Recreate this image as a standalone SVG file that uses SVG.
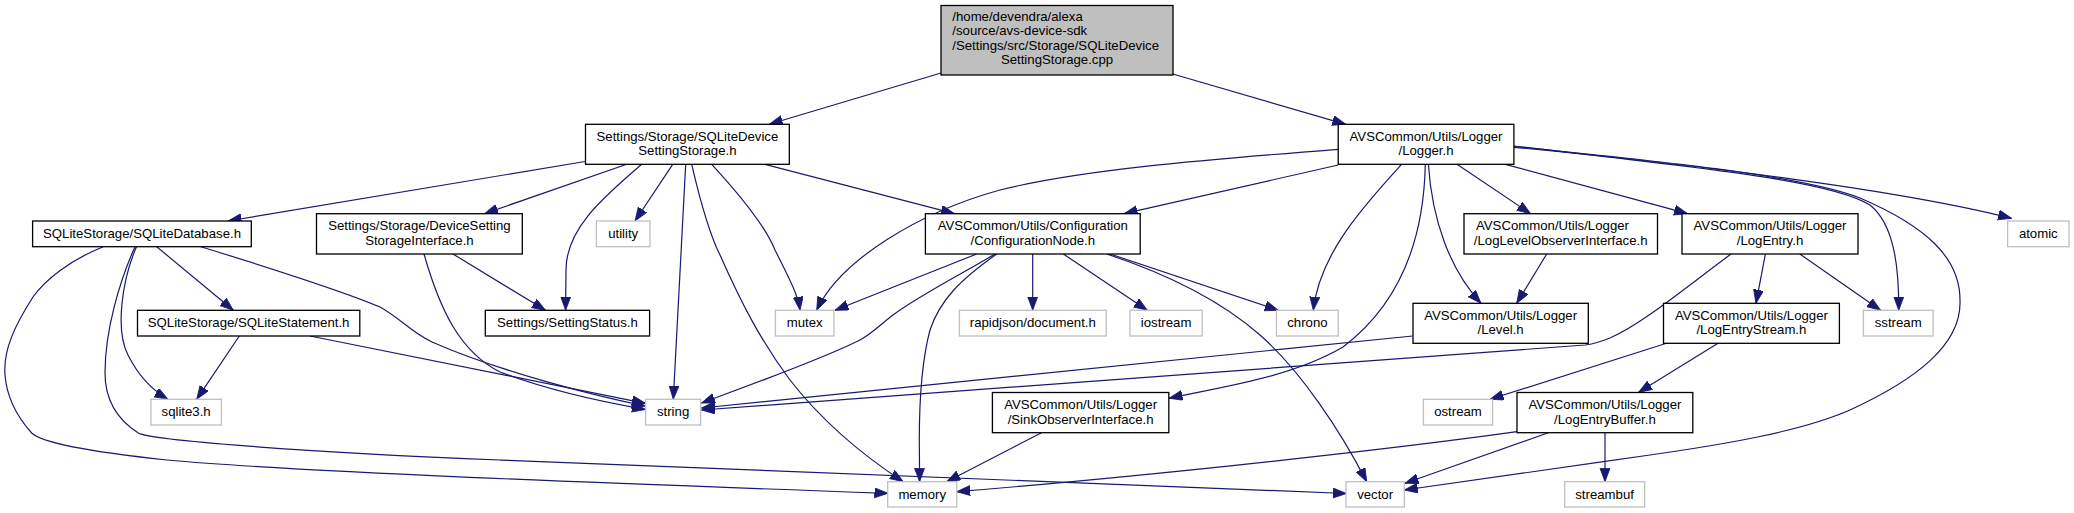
<svg xmlns="http://www.w3.org/2000/svg" width="2074" height="513" viewBox="0 0 2074 513">
<style>
.n rect{fill:#ffffff;stroke:#000000;stroke-width:1.3}
.x rect{fill:#ffffff;stroke:#bfbfbf;stroke-width:1.3}
.root rect{fill:#bfbfbf;stroke:#000000;stroke-width:1.3}
text{font-family:"Liberation Sans",Arial,sans-serif;font-size:13.2px;fill:#000000;text-anchor:middle}
text.l{text-anchor:start}
#edges path{fill:none;stroke:#191970;stroke-width:1.2;marker-end:url(#ah)}
</style>
<defs>
<marker id="ah" markerUnits="userSpaceOnUse" markerWidth="15" markerHeight="12" refX="13.5" refY="5" orient="auto">
<path d="M0,0 L13.5,5 L0,10 z" fill="#191970" stroke="#191970" stroke-width="0.8"/>
</marker>
</defs>
<rect width="2074" height="513" fill="#ffffff"/>
<g id="edges">
<path d="M941,73 L769.2,124.3"/>
<path d="M1172.8,74 L1345.8,124.3"/>
<path d="M585,161.5 L228,221"/>
<path d="M626.7,164.3 L484.4,213.7"/>
<path d="M641.7,164.3 C600,200 566,230 566,270 L565.6,310.3"/>
<path d="M672.7,164.3 L635,221"/>
<path d="M685.7,164.3 L673.3,399.3"/>
<path d="M691.7,164.3 C700,200 710,235 720,255 C740,300 760,340 790,380 C825,425 870,460 903.3,481.7"/>
<path d="M711.7,164.3 C740,195 765,225 775,250 C790,280 798,295 800,310.3"/>
<path d="M765,164.3 L954.5,213.7"/>
<path d="M1338.2,165 L1124,213.7"/>
<path d="M1338.2,149.3 C1200,160 1080,170 1000,190 C920,212 840,260 816.7,310.3"/>
<path d="M1401.5,164.3 C1370,200 1320,250 1313.3,310.3"/>
<path d="M1425.3,164.3 C1424,230 1405,300 1343,347 C1290,378 1220,387 1169,398.3"/>
<path d="M1428.4,164.3 C1432,220 1450,270 1481,303.3"/>
<path d="M1457,164.3 L1530.6,213.7"/>
<path d="M1505.3,164.3 L1687.6,213.7"/>
<path d="M1513.9,146 C1700,168 1830,180 1870,205 C1895,225 1899,270 1898.7,310.3"/>
<path d="M1513.9,146.5 C1650,160 1800,175 1860,198 C1930,228 1960,260 1960,300 C1962,345 1915,380 1850,410 C1800,432 1720,445 1650,455 C1560,468 1460,482 1404.3,490"/>
<path d="M1513.9,147.3 C1700,165 1900,190 2011.6,218.3"/>
<path d="M103.3,246.7 C70,260 45,280 33,297 C15,325 3,350 5,375 C7,400 20,420 31.7,433 C45,446 120,455 166.7,460 C300,472 600,483 888,493.3"/>
<path d="M135,246.7 C120,280 105,330 105,373 C105,400 118,420 138.3,433 C150,440 300,452 500,460 C800,472 1100,485 1346.5,493.5"/>
<path d="M136.5,246.7 C122,280 115,330 128,355 C138,375 152,390 168,399.3"/>
<path d="M156.7,246.7 L233.3,310.3"/>
<path d="M200.9,246.7 C270,268 340,290 380,307 C400,318 412,333 432,342 C500,372 600,397 645.5,406"/>
<path d="M453,254 L545.5,310.3"/>
<path d="M424,254 C440,310 460,352 500,372 C560,395 620,405 645.5,409.5"/>
<path d="M239.3,336 L196.7,399.3"/>
<path d="M310,336 L645.5,403.3"/>
<path d="M976.7,254 L835,310.3"/>
<path d="M995,254 C960,275 920,295 893,315 C880,325 870,335 860,340 C820,360 750,385 701.5,403"/>
<path d="M996.7,254 C960,280 940,300 930,330 C922,360 919.3,400 919.3,440 L919.6,481.7"/>
<path d="M1032.7,254 L1032.7,310.3"/>
<path d="M1063.3,254 L1147.3,310.3"/>
<path d="M1110,254 L1278.3,310.3"/>
<path d="M1106.7,254 C1170,275 1220,300 1260,335 C1300,370 1340,430 1366.7,481.7"/>
<path d="M1546.7,254 L1516.7,303.3"/>
<path d="M1731,254 C1680,292 1640,325 1610,338 C1600,342 1595,344 1585,345 L701.5,410"/>
<path d="M1765.4,254 L1756,303.3"/>
<path d="M1799.8,254 L1880.6,310.3"/>
<path d="M1412.7,336 L701.5,408"/>
<path d="M1041.5,432.7 L946.7,481.7"/>
<path d="M1666.5,343.3 L1490,399.3"/>
<path d="M1718,343.3 L1638.6,392.3"/>
<path d="M1517,431.7 C1350,455 1100,480 956.7,491.7"/>
<path d="M1548.3,432.7 L1405,483.3"/>
<path d="M1605,432.7 L1605,481.7"/>
</g>
<g id="root" class="root"><rect x="941" y="5.5" width="232" height="69.5"/>
<text class="l" x="952.3" y="21">/home/devendra/alexa</text>
<text class="l" x="952.3" y="35.3">/source/avs-device-sdk</text>
<text class="l" x="952.3" y="49.6">/Settings/src/Storage/SQLiteDevice</text>
<text x="1057" y="63.9">SettingStorage.cpp</text></g>
<g id="sqlitedevicesettingstorage" class="n"><rect x="585.5" y="124.3" width="203.8" height="40"/>
<text x="687.4" y="140.8">Settings/Storage/SQLiteDevice</text><text x="687.4" y="155.3">SettingStorage.h</text></g>
<g id="logger" class="n"><rect x="1338.2" y="124.3" width="175.7" height="40"/>
<text x="1426" y="140.8">AVSCommon/Utils/Logger</text><text x="1426" y="155.3">/Logger.h</text></g>
<g id="sqlitedatabase" class="n"><rect x="32.6" y="221" width="218.7" height="25.7"/>
<text x="142" y="238">SQLiteStorage/SQLiteDatabase.h</text></g>
<g id="devicesettingstorageinterface" class="n"><rect x="316.5" y="213.7" width="205.8" height="40.3"/>
<text x="419.4" y="230.2">Settings/Storage/DeviceSetting</text><text x="419.4" y="244.7">StorageInterface.h</text></g>
<g id="utility" class="x"><rect x="596.4" y="221" width="53.6" height="25.7"/><text x="623.2" y="238">utility</text></g>
<g id="configurationnode" class="n"><rect x="925.4" y="213.7" width="214.8" height="40.3"/>
<text x="1032.8" y="230.2">AVSCommon/Utils/Configuration</text><text x="1032.8" y="244.7">/ConfigurationNode.h</text></g>
<g id="loglevelobserverinterface" class="n"><rect x="1464" y="213.7" width="193.5" height="40.3"/>
<text class="l" x="1476" y="230.2">AVSCommon/Utils/Logger</text><text x="1560.7" y="244.7">/LogLevelObserverInterface.h</text></g>
<g id="logentry" class="n"><rect x="1682" y="213.7" width="176" height="40.3"/>
<text x="1770" y="230.2">AVSCommon/Utils/Logger</text><text x="1770" y="244.7">/LogEntry.h</text></g>
<g id="atomic" class="x"><rect x="2007.6" y="221" width="61.4" height="25.7"/><text x="2038.3" y="238">atomic</text></g>
<g id="sqlitestatement" class="n"><rect x="137.5" y="310.3" width="222.3" height="25.7"/>
<text x="248.6" y="327.3">SQLiteStorage/SQLiteStatement.h</text></g>
<g id="settingstatus" class="n"><rect x="485.3" y="310.3" width="164.3" height="25.7"/>
<text x="567.4" y="327.3">Settings/SettingStatus.h</text></g>
<g id="mutex" class="x"><rect x="775.4" y="310.3" width="58.6" height="25.7"/><text x="804.7" y="327.3">mutex</text></g>
<g id="rapidjson" class="x"><rect x="959.4" y="310.3" width="146.9" height="25.7"/><text x="1032.8" y="327.3">rapidjson/document.h</text></g>
<g id="iostream" class="x"><rect x="1130" y="310.3" width="72.2" height="25.7"/><text x="1166.1" y="327.3">iostream</text></g>
<g id="chrono" class="x"><rect x="1276.5" y="310.3" width="61.8" height="25.7"/><text x="1307.4" y="327.3">chrono</text></g>
<g id="level" class="n"><rect x="1413" y="303.3" width="175.3" height="40"/>
<text x="1500.6" y="319.8">AVSCommon/Utils/Logger</text><text x="1500.6" y="334.3">/Level.h</text></g>
<g id="logentrystream" class="n"><rect x="1663.5" y="303.3" width="175.9" height="40"/>
<text x="1751.4" y="319.8">AVSCommon/Utils/Logger</text><text x="1751.4" y="334.3">/LogEntryStream.h</text></g>
<g id="sstream" class="x"><rect x="1863.4" y="310.3" width="69.7" height="25.7"/><text x="1898.2" y="327.3">sstream</text></g>
<g id="sqlite3" class="x"><rect x="150.9" y="399.3" width="70.5" height="25.7"/><text x="186.1" y="416.3">sqlite3.h</text></g>
<g id="string" class="x"><rect x="645.6" y="399.3" width="55" height="25.7"/><text x="673.1" y="416.3">string</text></g>
<g id="sinkobserverinterface" class="n"><rect x="992.4" y="392.5" width="176.4" height="40.2"/>
<text x="1080.6" y="409">AVSCommon/Utils/Logger</text><text x="1080.6" y="423.5">/SinkObserverInterface.h</text></g>
<g id="ostream" class="x"><rect x="1423.4" y="399.3" width="69.2" height="25.7"/><text x="1458" y="416.3">ostream</text></g>
<g id="logentrybuffer" class="n"><rect x="1517" y="392.5" width="175.8" height="40.2"/>
<text x="1604.9" y="409">AVSCommon/Utils/Logger</text><text x="1604.9" y="423.5">/LogEntryBuffer.h</text></g>
<g id="memory" class="x"><rect x="887.7" y="481.7" width="69" height="25.3"/><text x="922.2" y="498.7">memory</text></g>
<g id="vector" class="x"><rect x="1346" y="481.7" width="58.3" height="25.3"/><text x="1375.1" y="498.7">vector</text></g>
<g id="streambuf" class="x"><rect x="1564.7" y="481.7" width="79.9" height="25.3"/><text x="1604.6" y="498.7">streambuf</text></g>
</svg>
